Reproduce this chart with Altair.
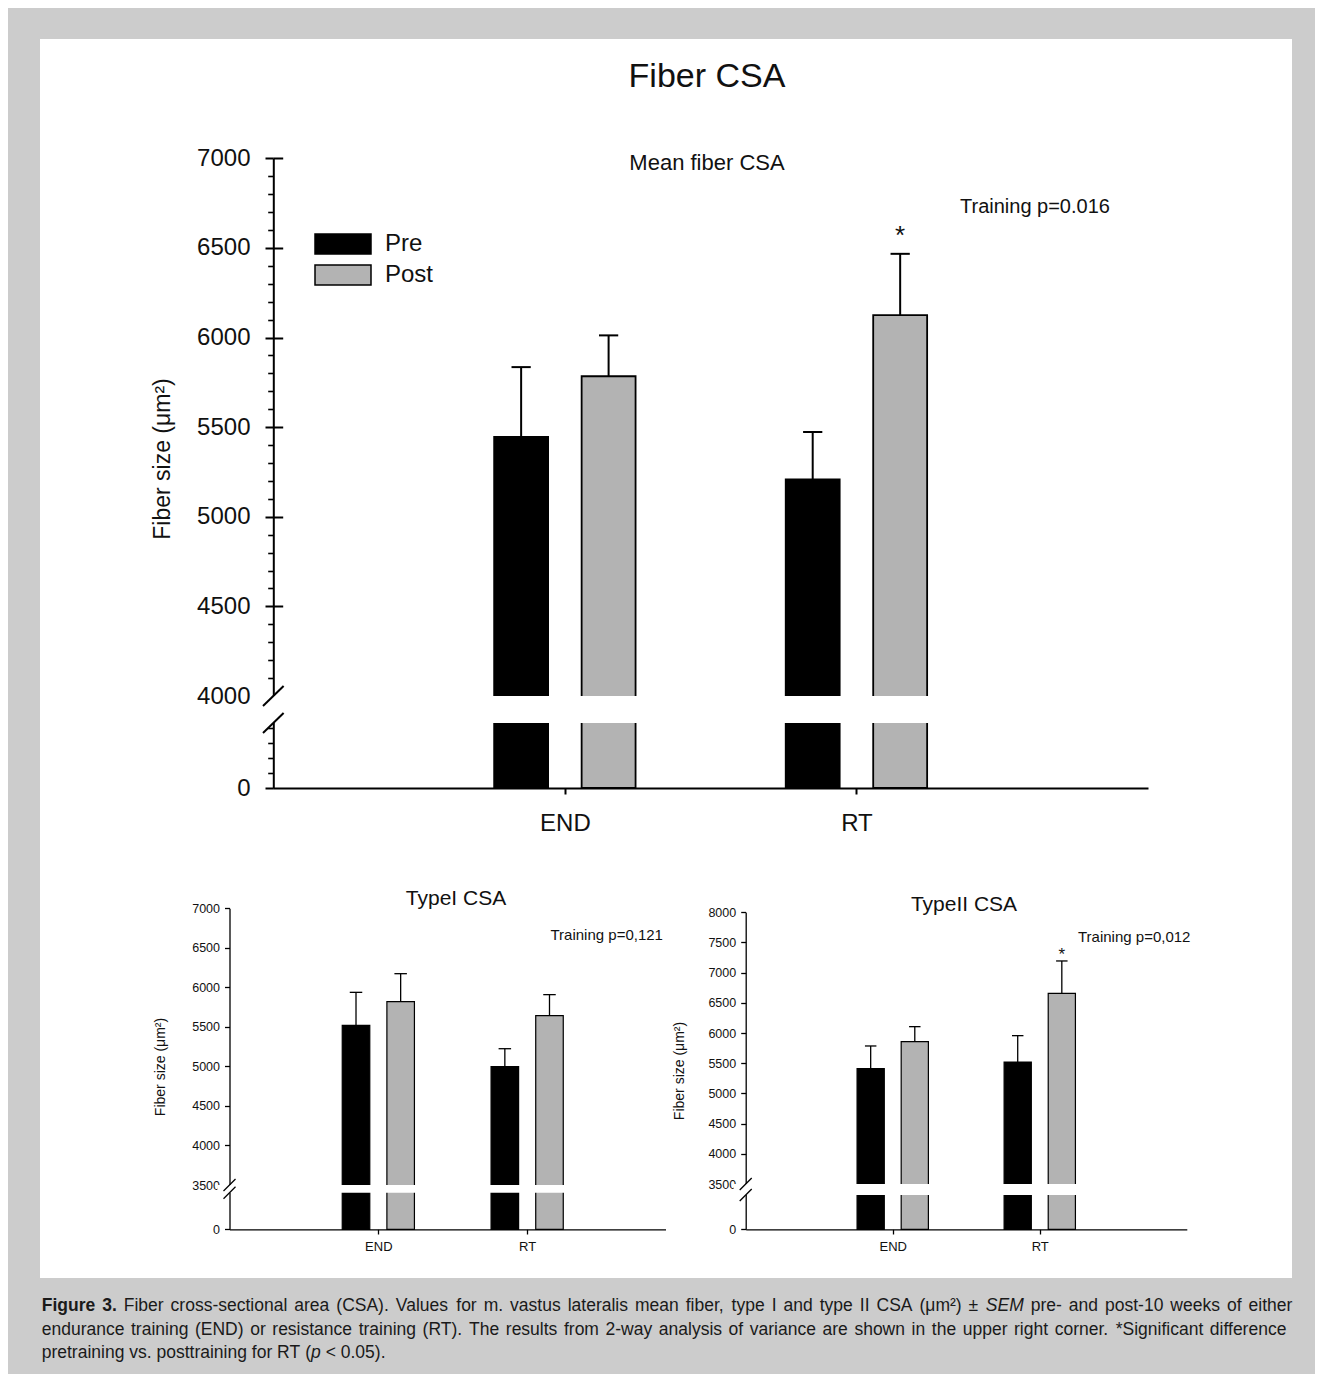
import altair as alt
import pandas as pd

# ---------------- data ----------------
groups = ["END", "RT"]
series = ["Pre", "Post"]
series_colors = ["#000000", "#b3b3b3"]

# Mean fiber CSA (um^2), mean and SEM
main_pre = [5445, 5208]
main_pre_sem = [390, 265]
main_post = [5784, 6125]
main_post_sem = [228, 342]
main_post_star = [False, True]

# Type I CSA
type1_pre = [5520, 4997]
type1_pre_sem = [417, 227]
type1_post = [5819, 5642]
type1_post_sem = [354, 266]
type1_post_star = [False, False]

# Type II CSA
type2_pre = [5410, 5521]
type2_pre_sem = [376, 436]
type2_post = [5858, 6658]
type2_post_sem = [248, 536]
type2_post_star = [False, True]

# axis ticks and broken-axis break values
main_ticks = [0, 4000, 4500, 5000, 5500, 6000, 6500, 7000]
main_inner_ticks = [4500, 5000, 5500, 6000, 6500, 7000]
main_minor_ticks = [900, 1800, 2700, 3600] + [v for v in range(4100, 7000, 100) if v % 500]
main_break = [3900, 4000]
type1_ticks = [0, 3500, 4000, 4500, 5000, 5500, 6000, 6500, 7000]
type1_break = [3000, 3500]
type2_ticks = [0, 3500, 4000, 4500, 5000, 5500, 6000, 6500, 7000, 7500, 8000]
type2_break = [3000, 3500]

# caption text: (text, style, space_before)
caption_line1 = (
    [("Figure", "bold", False), ("3.", "bold", True)]
    + [(w, "normal", True) for w in
       "Fiber cross-sectional area (CSA). Values for m. vastus lateralis mean fiber, "
       "type I and type II CSA (\u03bcm\u00b2) \u00b1".split(" ")]
    + [("SEM", "italic", True)]
    + [(w, "normal", True) for w in "pre- and post-10 weeks of either".split(" ")]
)
caption_line2 = [(w, "normal", True) for w in
                 ("endurance training (END) or resistance training (RT). The results from 2-way "
                  "analysis of variance are shown in the upper right corner. *Significant difference").split(" ")]
caption_line3 = (
    [(w, "normal", True) for w in "pretraining vs. posttraining for RT (".split(" ")]
    + [("p", "italic", False), ("<", "normal", True), ("0.05).", "normal", True)]
)

FONT = "Liberation Sans"
INK = "#111111"
GRAY_BG = "#cccccc"
ONE = pd.DataFrame({"k": [0]})


def build_frame(pre, pre_sem, post, post_sem, post_star):
    rows = []
    for gi, g in enumerate(groups):
        rows.append(dict(group=g, series=series[0], gi=gi, si=0, mean=pre[gi], sem=pre_sem[gi], star=False))
        rows.append(dict(group=g, series=series[1], gi=gi, si=1, mean=post[gi], sem=post_sem[gi], star=post_star[gi]))
    return pd.DataFrame(rows)


def label(text, x, y, size, align="center", weight="normal", style="normal", angle=0,
          color=INK, baseline="middle"):
    return alt.Chart(ONE).mark_text(
        text=text, fontSize=size, align=align, baseline=baseline, fontWeight=weight,
        fontStyle=style, angle=angle, color=color, font=FONT,
    ).encode(x=alt.value(x), y=alt.value(y))


def panel(df, p):
    xs = alt.Scale(domain=[0, 3], range=[p["ax"], p["xend"]], nice=False, zero=False)
    ys = alt.Scale(domain=p["ydomain"], range=p["yrange"], nice=False, zero=False)
    cs = alt.Scale(domain=series, range=series_colors)
    cap = p["cap"]
    base = alt.Chart(df).transform_calculate(
        xc="datum.gi + 1 + (datum.si - 0.5) * 0.3",
        xl="datum.xc - 0.0925",
        xh="datum.xc + 0.0925",
        upper="datum.mean + datum.sem",
        zero="0",
        cl=f"datum.xc - {cap}",
        ch=f"datum.xc + {cap}",
    )
    brk = p["brk"]
    yaxis = alt.Axis(
        orient="left", offset=-p["ax"], values=p["ticks"], tickSize=p["ts"],
        tickWidth=p["aw"], domainWidth=p["aw"], labelFontSize=p["fsy"],
        labelPadding=p["lpy"], title=None, grid=False, labelOverlap=False,
        labelFlush=False, format="d",
        tickOpacity={"condition": {"test": f"datum.value === {brk[1]}", "value": 0}, "value": 1},
    )
    label_expr = f"datum.value === 1 ? '{groups[0]}' : '{groups[1]}'"
    xaxis = alt.Axis(
        orient="bottom", offset=-(p["height"] - p["yrange"][0]), values=[1, 2],
        labelExpr=label_expr, tickSize=p["xts"], tickWidth=p["aw"], domainWidth=p["aw"],
        labelFontSize=p["fsx"], labelPadding=p["lpx"], title=None, grid=False,
        labelFlush=False, labelOverlap=False,
    )
    if p["legend"]:
        legend = alt.Legend(
            orient="none", legendX=p["legendX"], legendY=p["legendY"], title=None,
            symbolType="M-2.8,-1H2.8V1H-2.8Z", symbolSize=400, labelFontSize=24,
            labelFont=FONT, labelColor=INK, labelOffset=30, rowPadding=5, padding=0,
            symbolStrokeColor="black", symbolStrokeWidth=1.5,
        )
    else:
        legend = None

    bars = base.mark_bar(stroke="black", strokeWidth=p["bsw"]).encode(
        x=alt.X("xl:Q", scale=xs, axis=xaxis),
        x2="xh:Q",
        y=alt.Y("mean:Q", scale=ys, axis=yaxis),
        y2="zero:Q",
        color=alt.Color("series:N", scale=cs, legend=legend),
    )
    gap = alt.Chart(pd.DataFrame({"lo": [brk[0]], "hi": [brk[1]]})).mark_rect(
        color="white").encode(
        x=alt.value(p["ax"] - 12), x2=alt.value(p["xend"] - 20),
        y=alt.Y("lo:Q", scale=ys, axis=None), y2="hi:Q",
    )
    slashes = alt.Chart(pd.DataFrame({"v": brk})).mark_rule(
        color="black", strokeWidth=p["aw"], yOffset=p["sh"], y2Offset=-p["sh"]).encode(
        x=alt.value(p["ax"] - p["sw"]), x2=alt.value(p["ax"] + p["sw"]),
        y=alt.Y("v:Q", scale=ys, axis=None), y2="v:Q",
    )
    inner_axis = None
    minor_axis = None
    if p.get("inner"):
        inner_axis = alt.Axis(
            orient="left", offset=-(p["ax"] + p["inner_size"]), values=p["inner"],
            tickSize=p["inner_size"], tickWidth=p["aw"], domain=False, labels=False,
            title=None, grid=False)
    if p.get("minor"):
        minor_axis = alt.Axis(
            orient="left", offset=-p["ax"], values=p["minor"], tickSize=p["minor_size"],
            tickWidth=p["aw"] * 0.8, domain=False, labels=False, title=None, grid=False)
    err = base.mark_rule(color="black", strokeWidth=p["ew"]).encode(
        x=alt.X("xc:Q", scale=xs, axis=None),
        y=alt.Y("mean:Q", scale=ys, axis=inner_axis),
        y2="upper:Q",
    )
    caps = base.mark_rule(color="black", strokeWidth=p["ew"]).encode(
        x=alt.X("cl:Q", scale=xs, axis=None),
        x2="ch:Q",
        y=alt.Y("upper:Q", scale=ys, axis=minor_axis),
    )
    stars = base.transform_filter("datum.star").mark_text(
        text="*", fontSize=p["star_fs"], dy=p["star_dy"], baseline="alphabetic",
        color=INK, font=FONT).encode(
        x=alt.X("xc:Q", scale=xs, axis=None),
        y=alt.Y("upper:Q", scale=ys, axis=None),
    )
    layers = [bars, gap, slashes, err, caps, stars] + p["labels"]
    return alt.layer(*layers).resolve_axis(x="independent", y="independent").properties(
        width=p["width"], height=p["height"])


# ---------------- panels ----------------
main_df = build_frame(main_pre, main_pre_sem, main_post, main_post_sem, main_post_star)
t1_df = build_frame(type1_pre, type1_pre_sem, type1_post, type1_post_sem, type1_post_star)
t2_df = build_frame(type2_pre, type2_pre_sem, type2_post, type2_post_sem, type2_post_star)

main_p = dict(
    width=1252, height=831, ax=233.3, xend=1108,
    ydomain=[0, main_break[0], main_break[1], 7000], yrange=[749, 684, 657, 119.3],
    ticks=main_ticks, brk=main_break, ts=8.3, aw=2, fsy=24, lpy=15,
    xts=6, fsx=24, lpx=17, bsw=1.8, ew=2, cap=0.033, sw=10.3, sh=10,
    star_fs=26, star_dy=-10,
    inner=main_inner_ticks, inner_size=9.4, minor=main_minor_ticks, minor_size=5.6,
    legend=True, legendX=291, legendY=193,
    labels=[
        label("Fiber CSA", 667, 38, 34),
        label("Mean fiber CSA", 667, 124, 22),
        label("Training p=0.016", 920, 168, 20, align="left"),
        label("Fiber size (\u03bcm\u00b2)", 123, 420, 23, angle=270),
    ],
)
t1_p = dict(
    width=626, height=408, ax=189.5, xend=636,
    ydomain=[0, type1_break[0], type1_break[1], 7000], yrange=[359.3, 322.7, 315, 38.3],
    ticks=type1_ticks, brk=type1_break, ts=5, aw=1.3, fsy=12.5, lpy=5,
    xts=4.7, fsx=13, lpx=6, bsw=1.2, ew=1.3, cap=0.042, sw=6, sh=6,
    star_fs=17, star_dy=-1, legend=False,
    labels=[
        label("TypeI CSA", 416, 29, 21),
        label("Training p=0,121", 510.5, 65, 15, align="left"),
        label("Fiber size (\u03bcm\u00b2)", 121, 197, 14, angle=270),
    ],
)
t2_p = dict(
    width=626, height=408, ax=79.7, xend=520.8,
    ydomain=[0, type2_break[0], type2_break[1], 8000], yrange=[359.3, 325, 314, 42.3],
    ticks=type2_ticks, brk=type2_break, ts=5, aw=1.3, fsy=12.5, lpy=5,
    xts=4.7, fsx=13, lpx=6, bsw=1.2, ew=1.3, cap=0.039, sw=6, sh=6,
    star_fs=17, star_dy=-1, legend=False,
    labels=[
        label("TypeII CSA", 298, 35, 21),
        label("Training p=0,012", 412, 67, 15, align="left"),
        label("Fiber size (\u03bcm\u00b2)", 14, 201, 14, angle=270),
    ],
)

main_chart = panel(main_df, main_p)
t1_chart = panel(t1_df, t1_p)
t2_chart = panel(t2_df, t2_p)

# ---------------- caption: justified lines laid out word by word ----------------
CAP_FS = 17.5
CAP_INK = "#1a1a1a"
# Arial / Liberation Sans advance widths (1/1000 em)
_W = {" ": 278, "(": 333, ")": 333, "*": 389, ",": 278, "-": 333, ".": 278, "<": 584,
      "\u00b1": 584, "\u00b2": 333, "\u03bc": 576}
_W.update({d: 556 for d in "0123456789"})
_W.update(dict(zip("ABCDEFGHIJKLMNOPQRSTUVWXYZ",
                   [667, 667, 722, 722, 667, 611, 778, 722, 278, 500, 667, 556, 833, 722, 778,
                    667, 778, 722, 667, 611, 722, 667, 944, 667, 667, 611])))
_W.update(dict(zip("abcdefghijklmnopqrstuvwxyz",
                   [556, 556, 500, 556, 556, 278, 556, 556, 222, 222, 500, 222, 833, 556, 556,
                    556, 556, 333, 500, 278, 556, 500, 722, 500, 500, 500])))
_WB = dict(_W)
_WB.update({"F": 611, "i": 278, "g": 611, "u": 611, "r": 389, "e": 556})


def text_width(s, style):
    table = _WB if style == "bold" else _W
    return sum(table.get(c, 556) for c in s) * CAP_FS / 1000.0


def layout_line(tokens, x0, x1, y, justify):
    widths = [text_width(t, s) for t, s, _ in tokens]
    gaps = sum(1 for _, _, sp in tokens[1:] if sp)
    space = _W[" "] * CAP_FS / 1000.0
    natural = sum(widths) + gaps * space
    extra = (x1 - x0 - natural) / gaps if (justify and gaps) else 0.0
    rows, cur = [], x0
    for i, ((t, s, sp), w) in enumerate(zip(tokens, widths)):
        if i > 0 and sp:
            cur += space + extra
        rows.append(dict(word=t, style=s, px=cur, py=y))
        cur += w
    return rows


cap_rows = (layout_line(caption_line1, 1.7, 1252.3, 28, True)
            + layout_line(caption_line2, 1.7, 1246.7, 52.3, True)
            + layout_line(caption_line3, 1.7, 0, 75, False))
cap_df = pd.DataFrame(cap_rows)


def cap_layer(style):
    weight = "bold" if style == "bold" else "normal"
    fstyle = "italic" if style == "italic" else "normal"
    return alt.Chart(cap_df).transform_filter(f"datum.style === '{style}'").mark_text(
        align="left", baseline="middle", fontSize=CAP_FS, font=FONT, color=CAP_INK,
        fontWeight=weight, fontStyle=fstyle,
    ).encode(x=alt.X("px:Q", scale=None), y=alt.Y("py:Q", scale=None), text="word:N")


caption = alt.layer(
    cap_layer("normal"), cap_layer("bold"), cap_layer("italic")
).properties(width=1252, height=90,
             view=alt.ViewBackground(fill=GRAY_BG, stroke="transparent", strokeWidth=0))

bottom_row = alt.hconcat(t1_chart, t2_chart, spacing=0, bounds="flush").resolve_scale(
    x="independent", y="independent", color="independent")

chart = alt.vconcat(main_chart, bottom_row, caption, spacing=0).resolve_scale(
    x="independent", y="independent", color="independent"
).properties(
    background=GRAY_BG,
    padding={"left": 32, "top": 31, "right": 22, "bottom": 6},
).configure_view(
    fill="white", stroke="transparent", strokeWidth=0
).configure_axis(
    labelFont=FONT, labelColor=INK, domainColor="black", tickColor="black"
).configure_text(font=FONT)

chart.save("out.html", embed_options={"renderer": "svg", "actions": False})
